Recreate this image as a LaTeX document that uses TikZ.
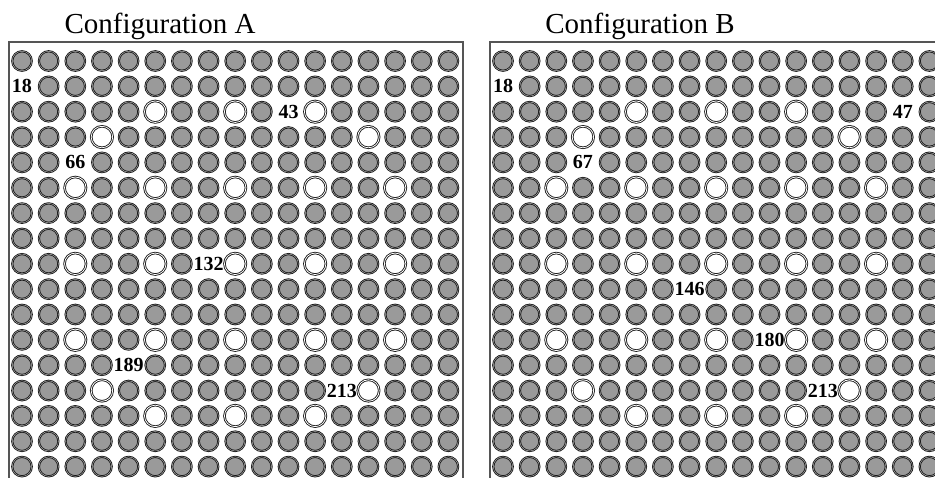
\documentclass[tikz,border=0pt]{standalone}
\usepackage{fontspec}
\setmainfont{Liberation Serif}
\definecolor{gridFill}{HTML}{9A9A9A}
\definecolor{gridLine}{HTML}{161616}
\definecolor{gridFrame}{HTML}{555555}
\tikzset{
  gridfig/.style={x=1pt, y=-1pt},
  pellet/.style={
    circle, draw=gridLine, fill=gridFill, line width=0.85pt,
    double=gridFill!70, double distance=0.45pt,
    minimum size=19.5pt, inner sep=0pt,
  },
  hole/.style={pellet, fill=white, double=white, double distance=0.8pt, minimum size=21.5pt},
  cellno/.style={font=\fontsize{20}{20}\selectfont\bfseries, inner sep=0pt},
  panelframe/.style={draw=gridFrame, line width=1.3pt},
  paneltitle/.style={font=\fontsize{29}{30}\selectfont, anchor=base, inner sep=0pt},
}
% cells without pellet: empty holes, or a number in place of the pellet
\newcommand\markholes[2]{\foreach \r/\c in {#2}{\expandafter\gdef\csname #1hole-\r-\c\endcsname{}}}
\newcommand\marknumbers[2]{\foreach \r/\c/\n in {#2}{\expandafter\xdef\csname #1num-\r-\c\endcsname{\n}}}
% 17 x 17 cells, #2 = x of the first column
\newcommand\pelletgrid[2]{%
  \foreach \r in {1,...,17}{
    \foreach \c in {1,...,17}{
      \ifcsname #1hole-\r-\c\endcsname
        \node[hole] (#1-\r-\c) at ({#2+(\c-1)*26.65}, {61+(\r-1)*25.35}) {};
      \else\ifcsname #1num-\r-\c\endcsname
        \node[cellno] (#1-\r-\c) at ({#2+(\c-1)*26.65}, {61+(\r-1)*25.35}) {\csname #1num-\r-\c\endcsname};
      \else
        \node[pellet] (#1-\r-\c) at ({#2+(\c-1)*26.65}, {61+(\r-1)*25.35}) {};
      \fi\fi
    }
  }%
}
\markholes{A}{3/6,3/9,3/12, 4/4,4/14, 6/3,6/6,6/9,6/12,6/15, 9/3,9/6,9/9,9/12,9/15,
  12/3,12/6,12/9,12/12,12/15, 14/4,14/14, 15/6,15/9,15/12}
\marknumbers{A}{2/1/18, 3/11/43, 5/3/66, 9/8/132, 13/5/189, 14/13/213}
\markholes{B}{3/6,3/9,3/12, 4/4,4/14, 6/3,6/6,6/9,6/12,6/15, 9/3,9/6,9/9,9/12,9/15,
  12/3,12/6,12/9,12/12,12/15, 14/4,14/14, 15/6,15/9,15/12}
\marknumbers{B}{2/1/18, 3/16/47, 5/4/67, 10/8/146, 12/11/180, 14/13/213}

\begin{document}
\begin{tikzpicture}[gridfig]
  \useasboundingbox (0,0) rectangle (935,477);
  \clip (0,0) rectangle (935,477);
  \node[paneltitle] (titleA) at (160,33) {Configuration A};
  \node[paneltitle] (titleB) at (640,33) {Configuration B};
  \draw[panelframe] (9,42) rectangle (463,500);
  \draw[panelframe] (490,42) rectangle (960,500);
  \pelletgrid{A}{22}
  \pelletgrid{B}{503}
\end{tikzpicture}
\end{document}
